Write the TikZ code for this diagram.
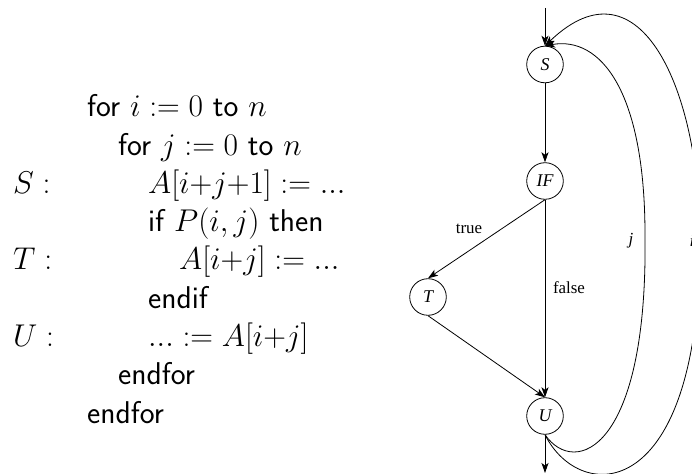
\RequirePackage{fix-cm}
\documentclass[tikz,border=0pt]{standalone}
\usepackage{fontspec}
\newfontfamily\tms{Liberation Serif}
\usetikzlibrary{arrows.meta}
\begin{document}
\begin{tikzpicture}[x=1bp,y=-1bp,
  code/.style={anchor=base west, inner sep=0pt, font=\fontsize{31.6}{38}\selectfont\sffamily},
  stmt/.style={circle, draw, line width=0.8bp, minimum size=36.6bp, inner sep=0pt, font=\fontsize{18}{20}\selectfont\tms\itshape},
  lbl/.style={inner sep=0pt, font=\fontsize{17}{20}\selectfont\tms},
  edge/.style={line width=0.8bp, -{Stealth[length=10bp,width=7bp,inset=2.5bp]}}]
\useasboundingbox (0,0) rectangle (692,474);
% program text
\node[code] (l1) at (87,117) {for $i := 0$ to $n$};
\node[code] (l2) at (118,155.25) {for $j := 0$ to $n$};
\node[code] (lS) at (13,193.5) {$S :$};
\node[code] (l3) at (148,193.5) {$A[i{+}j{+}1] := ...$};
\node[code] (l4) at (148,231.75) {if $P(i,j)$ then};
\node[code] (lT) at (13,270) {$T :$};
\node[code] (l5) at (179,270) {$A[i{+}j] := ...$};
\node[code] (l6) at (148,308.25) {endif};
\node[code] (lU) at (13,346.5) {$U :$};
\node[code] (l7) at (148,346.5) {$... := A[i{+}j]$};
\node[code] (l8) at (118,384.75) {endfor};
\node[code] (l9) at (87,423) {endfor};
% graph
\node[stmt] (S) at (545,64.5) {S};
\node[stmt] (IF) at (545,181) {IF};
\node[stmt] (T) at (428,297) {T};
\node[stmt] (U) at (545,416) {U};
\coordinate (top) at (545,8);
\coordinate (bot) at (545,473);
\coordinate (jr) at (645,235);
\coordinate (ir) at (700,240);
\draw[edge] (top) -- (S);
\draw[edge] (S) -- (IF);
\draw[edge] (IF.south) -- (T.north);
\draw[edge] (IF) -- (U);
\draw[edge] (T.south) -- (U.north);
\draw[edge] (U) -- (bot);
\draw[edge] (U.south) .. controls (575,478) and (648,450) .. (jr)
  .. controls (645,90) and (600,36) .. (S.north);
\draw[edge] (U.south) .. controls (580,505) and (700,505) .. (ir)
  .. controls (700,90) and (640,-45) .. (S.north);
\node[lbl] (true) at (469,229) {true};
\node[lbl] (false) at (569,288) {false};
\node[lbl,font=\fontsize{17}{20}\selectfont\tms\itshape] (jl) at (631,241) {j};
\node[lbl,font=\fontsize{17}{20}\selectfont\tms\itshape] (il) at (692,241) {i};
\end{tikzpicture}
\end{document}
